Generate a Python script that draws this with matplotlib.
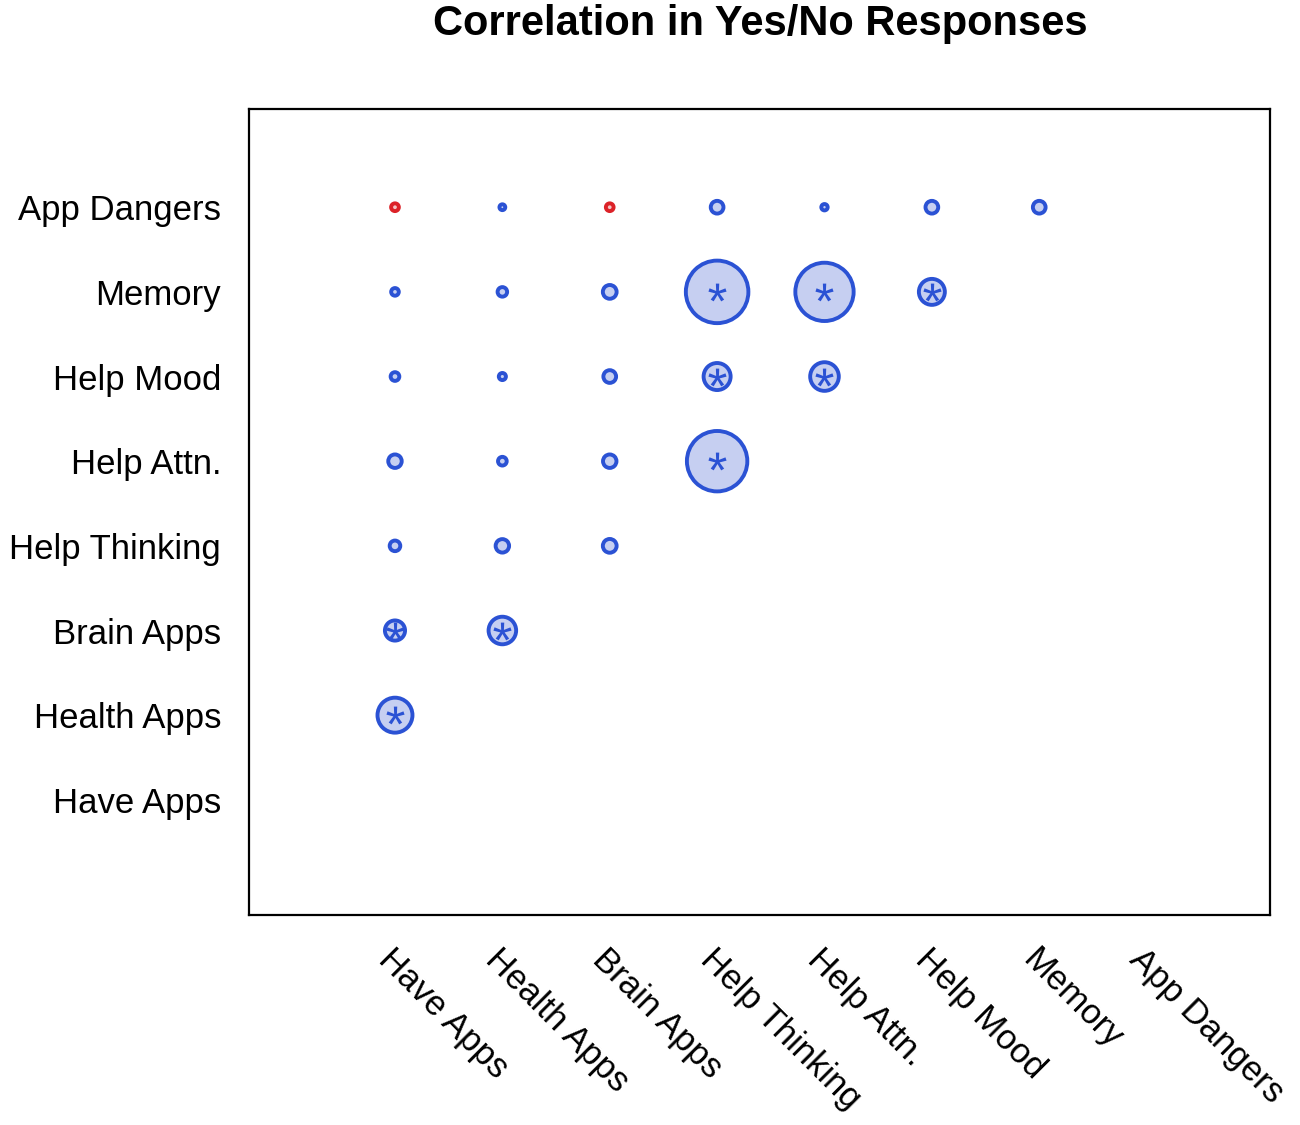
"""Correlation bubble chart for yes/no survey responses."""
import numpy as np
import matplotlib
matplotlib.use("Agg")
import matplotlib.pyplot as plt
from matplotlib.textpath import TextPath
from matplotlib.font_manager import FontProperties
from matplotlib.path import Path

plt.rcParams['font.family'] = ['Liberation Sans', 'DejaVu Sans']

labels = ["Have Apps", "Health Apps", "Brain Apps", "Help Thinking",
          "Help Attn.", "Help Mood", "Memory", "App Dangers"]

# lower triangle: corr[row][col] for col < row (row index into labels)
corr_rows = {
    1: [0.33],
    2: [0.19, 0.26],
    3: [0.10, 0.127, 0.13],
    4: [0.127, 0.082, 0.127, 0.57],
    5: [0.082, 0.067, 0.12, 0.255, 0.27],
    6: [0.072, 0.09, 0.13, 0.59, 0.55, 0.245],
    7: [-0.073, 0.055, -0.073, 0.12, 0.06, 0.12, 0.12],
}
# significant pairs (row, col)
signif = [(1, 0), (2, 0), (2, 1), (4, 3), (5, 3), (5, 4), (6, 3), (6, 4), (6, 5)]

blue = "#2b52d4"
blue_fill = "#c6cff1"
red = "#dc2228"
red_fill = "#f4c4c4"

fig = plt.figure(figsize=(13, 11.25), dpi=100)
ax = fig.add_axes([0.1915, 0.1867, 0.7855, 0.7164])

px_per_pt = 100 / 72.0
xs, ys, sizes, faces, edges = [], [], [], [], []
for row, vals in corr_rows.items():
    for col, v in enumerate(vals):
        radius_px = 53 * abs(v)
        diam_pt = 2 * radius_px / px_per_pt
        xs.append(col)
        ys.append(row)
        sizes.append(diam_pt ** 2)
        faces.append(blue_fill if v > 0 else red_fill)
        edges.append(blue if v > 0 else red)

ax.scatter(xs, ys, s=sizes, c=faces, edgecolors=edges, linewidths=2.8, zorder=2)

# asterisk marker centred on its own bounding box
tp = TextPath((0, 0), "*", size=10, prop=FontProperties(family="Liberation Sans"))
verts = tp.vertices.copy()
codes = tp.codes
real = codes != Path.CLOSEPOLY
mid = (verts[real].min(axis=0) + verts[real].max(axis=0)) / 2
verts[~real] = mid
star = Path(verts - mid, codes)

sx = [c for r, c in signif]
sy = [r for r, c in signif]
ax.scatter(sx, sy, s=170, marker=star, c=blue, linewidths=0, zorder=3)

ax.set_xlim(-1.36, 8.15)
ax.set_ylim(-1.36, 8.16)
ax.set_xticks(range(len(labels)))
ax.set_yticks(range(len(labels)))
ax.set_yticklabels(labels, fontsize=25)
ax.set_xticklabels(labels, fontsize=25, rotation=-45, ha='left',
                   va='top', rotation_mode='anchor')
ax.tick_params(axis='both', length=0)
ax.tick_params(axis='y', pad=20)
ax.tick_params(axis='x', pad=20)
for sp in ax.spines.values():
    sp.set_linewidth(1.6)

fig.text(0.585, 0.979, "Correlation in Yes/No Responses", fontsize=30,
         fontweight='bold', ha='center', va='center')

fig.savefig("out.png", dpi=100)
